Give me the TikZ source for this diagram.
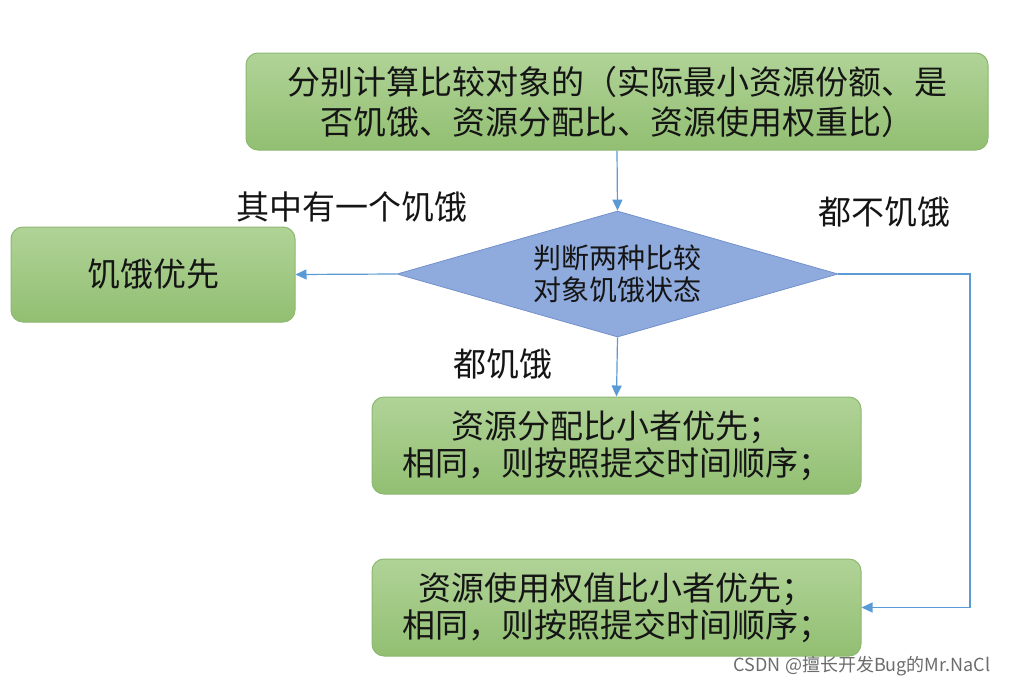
\documentclass[tikz,border=0pt]{standalone}
\usepackage{fontspec}
\setmainfont{Noto Sans CJK SC}
\usetikzlibrary{shapes.geometric,arrows.meta}
\definecolor{gtop}{HTML}{B0D397}
\definecolor{gbot}{HTML}{92BF72}
\definecolor{gborder}{HTML}{8DB870}
\definecolor{dfill}{HTML}{8FAADC}
\definecolor{dborder}{HTML}{7391CB}
\definecolor{arrowblue}{HTML}{5B9BD5}
\definecolor{txt}{HTML}{151515}
\tikzset{
  gbox/.style={rectangle, rounded corners=12pt, draw=gborder, line width=1pt,
    top color=gtop, bottom color=gbot, text=txt, align=center, inner sep=0pt},
  dec/.style={diamond, draw=dborder, line width=0.8pt, fill=dfill, text=txt,
    align=center, inner sep=0pt, aspect=3.5, minimum width=441pt, minimum height=126pt,
    font=\fontsize{28}{32}\selectfont},
  arr/.style={draw=arrowblue, line width=1.2pt, -{Triangle[width=10pt,length=11pt]}},
  lbl/.style={text=txt, font=\fontsize{33}{36}\selectfont, inner sep=0pt},
}
\begin{document}
\begin{tikzpicture}[x=1pt,y=-1pt]
\useasboundingbox[fill=white] (0,0) rectangle (1017,686);
\node[gbox, minimum width=742pt, minimum height=97pt, font=\fontsize{33}{40}\selectfont]
  (top) at (617,101.5) {分别计算比较对象的（实际最小资源份额、是\\否饥饿、资源分配比、资源使用权重比）};
\node[dec] (d) at (617.5,274) {判断两种比较\\对象饥饿状态};
\node[gbox, minimum width=284pt, minimum height=95pt, font=\fontsize{33}{40}\selectfont]
  (left) at (153,274.5) {饥饿优先};
\node[gbox, minimum width=489pt, minimum height=97pt, font=\fontsize{33}{37}\selectfont]
  (b3) at (616.5,445.5) {资源分配比小者优先；\\相同，则按照提交时间顺序；};
\node[gbox, minimum width=489pt, minimum height=97pt, font=\fontsize{33}{37}\selectfont]
  (b4) at (616.5,607.5) {资源使用权值比小者优先；\\相同，则按照提交时间顺序；};
\node[lbl] (l1) at (352,207) {其中有一个饥饿};
\node[lbl] (l2) at (884,212) {都不饥饿};
\node[lbl] (l3) at (503,364) {都饥饿};
\node[text=gray!85!black, font=\fontsize{18}{20}\selectfont, inner sep=0pt] (wm) at (862,666) {CSDN @擅长开发Bug的Mr.NaCl};
\coordinate (rc) at (970,607.5);
\draw[arr] (top.south) -- (d.north);
\draw[arr] (d.west) -- (left.east);
\draw[arr] (d.south) -- (b3.north);
\draw[arr] (d.east) -| (rc) -- (b4.east);
\end{tikzpicture}
\end{document}
